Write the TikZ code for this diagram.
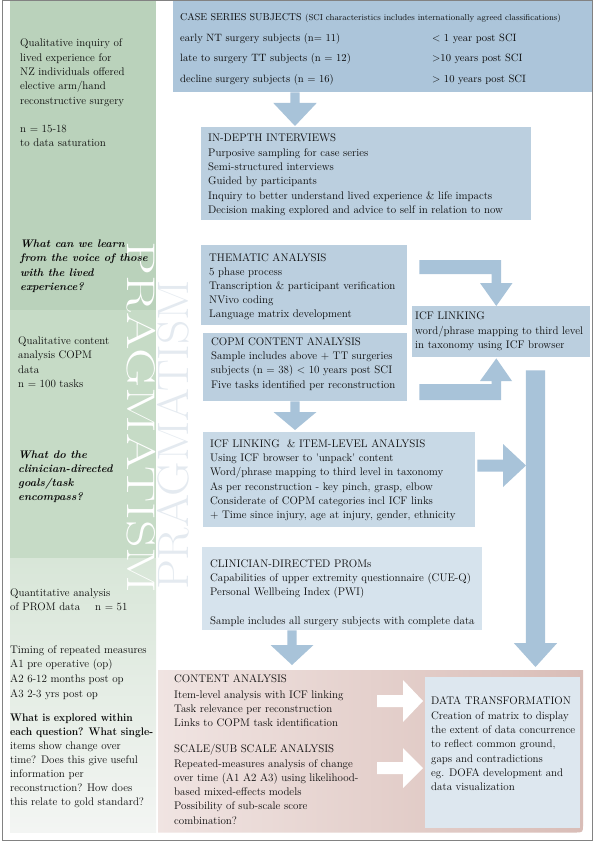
\documentclass[tikz,border=0pt]{standalone}
\usetikzlibrary{calc}
\definecolor{gA}{RGB}{186,210,187}
\definecolor{gB}{RGB}{198,219,198}
\definecolor{gC}{RGB}{216,230,216}
\definecolor{gD}{RGB}{243,245,243}
\definecolor{bCase}{RGB}{172,197,218}
\definecolor{bMid}{RGB}{187,207,223}
\definecolor{bItem}{RGB}{200,217,230}
\definecolor{bProm}{RGB}{214,227,237}
\definecolor{bData}{RGB}{221,231,239}
\definecolor{arr}{RGB}{168,195,217}
\definecolor{pkL}{RGB}{240,228,226}
\definecolor{pkR}{RGB}{217,189,183}
\definecolor{framec}{RGB}{130,130,130}
\definecolor{pale}{RGB}{228,234,240}
\definecolor{tx}{RGB}{10,10,10}
\newcommand{\dnarrow}[6]{\fill[#6] let \p1=#1, \p2=#2 in
  (\x1-#3,\y1) -- (\x1+#3,\y1) -- (\x1+#3,\y2+#5) -- (\x1+#4,\y2+#5) -- (\x1,\y2)
  -- (\x1-#4,\y2+#5) -- (\x1-#3,\y2+#5) -- cycle;}
\newcommand{\rtarrow}[6]{\fill[#6] let \p1=#1, \p2=#2 in
  (\x1,\y1+#3) -- (\x2-#5,\y1+#3) -- (\x2-#5,\y1+#4) -- (\x2,\y1)
  -- (\x2-#5,\y1-#4) -- (\x2-#5,\y1-#3) -- (\x1,\y1-#3) -- cycle;}
\begin{document}
\begin{tikzpicture}[x=1pt,y=-1pt,
  box/.style={rectangle, inner sep=0, anchor=north west, draw=none},
  txt/.style={anchor=north west, inner sep=0, align=left, text=tx, font=\fontsize{11}{14.2}\selectfont},
  line/.style={anchor=base west, inner sep=0, text=tx, font=\fontsize{11}{14.2}\selectfont},
  rowt/.style={anchor=base west, inner sep=0, text=tx, font=\fontsize{10.6}{13}\selectfont}]
\useasboundingbox (0,0) rectangle (595,842);
\fill[white] (0,0) rectangle (595,842);
% left column
\fill[gA] (10,0) rectangle (156,310);
\fill[gB] (10,310) rectangle (156,558);
\shade[top color=gC, bottom color=gD] (10,558) rectangle (156,832);
% pink region
\shade[left color=pkL, right color=pkR] (158,670) -- (583,670) -- (583,824.5)
  .. controls (583,832.5) .. (575,832.5) -- (158,832.5) -- cycle;
\coordinate (pinktop) at (370,670);
% pale word
\node[rotate=90, text=pale, inner sep=0, font=\fontsize{44}{44}\selectfont] (prag2) at (173.5,435) {\scalebox{1.08}[1]{PRAGMATISM}};
% boxes
\node[box, fill=bCase, minimum width=419, minimum height=92] (case) at (173,0) {};
\node[box, fill=bMid, minimum width=330, minimum height=93] (indepth) at (201,127) {};
\node[box, fill=bMid, minimum width=206, minimum height=80] (thematic) at (201,245) {};
\node[box, fill=bMid, minimum width=178, minimum height=51] (icf) at (412,306) {};
\node[box, fill=bMid, minimum width=204, minimum height=68] (copm) at (203,333) {};
\node[box, fill=bItem, minimum width=272, minimum height=95] (item) at (203,432) {};
\node[box, fill=bProm, minimum width=280, minimum height=83] (proms) at (202,547) {};
\node[box, fill=bData, minimum width=155, minimum height=151] (data) at (425,677) {};
% guide coordinates
\coordinate (x295) at (295,0);
\coordinate (x292) at (292,0);
\coordinate (x535) at (535.5,0);
\coordinate (v496) at (496.3,0);
\coordinate (h465) at (0,465.5);
\coordinate (h701) at (0,701);
\coordinate (h768) at (0,768);
\coordinate (h260) at (0,260);
\coordinate (h274) at (0,274);
\coordinate (h384) at (0,384);
\coordinate (h400) at (0,400);
% arrows
\dnarrow{(x295 |- case.south)}{($(x295 |- indepth.north)+(0,-1)$)}{4.7pt}{21.7pt}{23pt}{arr}
\dnarrow{(x295 |- copm.south)}{($(x295 |- item.north)+(0,-2)$)}{4.7pt}{21.5pt}{18pt}{arr}
\dnarrow{(x292 |- proms.south)}{($(x292 |- pinktop)+(0,-5)$)}{4.7pt}{21.5pt}{20pt}{arr}
\coordinate (vtop) at ($(x535 |- icf.south)+(0,13)$);
\coordinate (vend) at ($(x535 |- data.north)+(0,-10)$);
\dnarrow{(vtop)}{(vend)}{9.7pt}{21.7pt}{24pt}{arr}
\coordinate (ritail) at ($(item.east |- h465)+(2,0)$);
\coordinate (ritip) at (526,465.5);
\rtarrow{(ritail)}{(ritip)}{6pt}{21.5pt}{23pt}{arr}
% elbow arrow thematic -> icf
\fill[arr] ($(thematic.east |- h260)+(12,0)$) -- (501,260) -- (501,283) -- (512.5,283)
  -- (v496 |- icf.north) -- (480,283) -- (491.5,283) -- (491.5,274) -- ($(thematic.east |- h274)+(12,0)$) -- cycle;
% elbow arrow copm -> icf
\fill[arr] ($(copm.east |- h400)+(12,0)$) -- (501,400) -- (501,381) -- (512,381)
  -- ($(v496 |- icf.south)+(0,1)$) -- (480,381) -- (491.5,381) -- (491.5,384) -- ($(copm.east |- h384)+(12,0)$) -- cycle;
% white arrows
\coordinate (wa1) at (377,701);
\coordinate (wa2) at (377,768);
\rtarrow{(wa1)}{($(data.west |- h701)+(-2,0)$)}{6pt}{21pt}{20pt}{white}
\rtarrow{(wa2)}{($(data.west |- h768)+(-2,0)$)}{6pt}{20pt}{20pt}{white}
% white word
\node[rotate=-90, text=white, inner sep=0, font=\fontsize{40}{40}\selectfont] (prag1) at (141,417.5) {\scalebox{1.35}[1]{PRAGMATISM}};
% left column texts
\node[txt, font=\fontsize{11}{14.3}\selectfont] (l1) at (20,36.6) {\strut Qualitative inquiry of\\lived experience for\\NZ individuals offered\\elective arm/hand\\reconstructive surgery\\[14.3pt]n = 15-18\\to data saturation};
\node[txt, font=\fontsize{11}{14.2}\bfseries\itshape] (l2) at (20,237.6) {\strut What can we learn\\from the voice of those\\with the lived\\experience?};
\node[txt] (l3) at (18,334.6) {\strut Qualitative content\\analysis COPM\\data\\n = 100 tasks};
\node[txt, font=\fontsize{11}{14.2}\bfseries\itshape] (l4) at (18,447.9) {\strut What do the\\clinician-directed\\goals/task\\encompass?};
\node[txt] (l5) at (10,586.3) {\strut Quantitative analysis\\of PROM data};
\node[line] (l5b) at (95,610.8) {n = 51};
\node[txt, font=\fontsize{11}{14.6}\selectfont] (l6) at (10,642.9) {\strut Timing of repeated measures\\A1 pre operative (op)\\A2 6-12 months post op\\A3 2-3 yrs post op};
\node[txt, font=\fontsize{11}{14.1}\selectfont] (l7) at (10,711.3) {\strut\scalebox{0.93}[1]{\bfseries What is explored within}\\\scalebox{0.93}[1]{\bfseries each question? What single-}\\items show change over\\time? Does this give useful\\information per\\reconstruction? How does\\this relate to gold standard?};
% case box texts
\node[anchor=base west, inner sep=0, text=tx] (ct) at (180,20.8) {{\fontsize{10}{12}\selectfont CASE SERIES SUBJECTS} {\fontsize{8.6}{10}\selectfont (SCI characteristics includes internationally agreed classifications)}};
\node[rowt] (r1a) at (180,41.5) {early NT surgery subjects (n= 11)};
\node[rowt] (r1b) at (432,41.5) {< 1 year post SCI};
\node[rowt] (r2a) at (180,61.8) {late to surgery TT subjects (n = 12)};
\node[rowt] (r2b) at (432,61.8) {>10 years post SCI};
\node[rowt] (r3a) at (180,82.3) {decline surgery subjects (n = 16)};
\node[rowt] (r3b) at (432,82.3) {> 10 years post SCI};
% box texts
\node[txt, font=\fontsize{11}{14.3}\selectfont] (t1) at (208,131.6) {\strut IN-DEPTH INTERVIEWS\\Purposive sampling for case series\\Semi-structured interviews\\Guided by participants\\Inquiry to better understand lived experience \& life impacts\\Decision making explored and advice to self in relation to now};
\node[txt, font=\fontsize{11}{14.1}\selectfont] (t2) at (209,251.3) {\strut THEMATIC ANALYSIS\\5 phase process\\Transcription \& participant verification\\NVivo coding\\Language matrix development};
\node[txt, font=\fontsize{11}{14.6}\selectfont] (t3) at (415,309.3) {\strut ICF LINKING\\word/phrase mapping to third level\\in taxonomy using ICF browser};
\node[txt] (t4) at (211,335.3) {\strut COPM CONTENT ANALYSIS\\Sample includes above + TT surgeries\\subjects (n = 38) < 10 years post SCI\\Five tasks identified per reconstruction};
\node[txt, font=\fontsize{11}{14.3}\selectfont] (t5) at (210,436.9) {\strut ICF LINKING \ \& ITEM-LEVEL ANALYSIS\\Using ICF browser to \textquotesingle unpack\textquotesingle\ content\\Word/phrase mapping to third level in taxonomy\\As per reconstruction - key pinch, grasp, elbow\\Considerate of COPM categories incl ICF links\\+ Time since injury, age at injury, gender, ethnicity};
\node[txt, font=\fontsize{11}{14.4}\selectfont] (t6) at (210,556.9) {\strut CLINICIAN-DIRECTED PROMs\\Capabilities of upper extremity questionnaire (CUE-Q)\\Personal Wellbeing Index (PWI)\\[14.3pt]Sample includes all surgery subjects with complete data};
\node[line] (t7) at (174,682.8) {CONTENT ANALYSIS};
\node[txt, font=\fontsize{11}{13.9}\selectfont] (t8) at (174,688.6) {\strut Item-level analysis with ICF linking\\Task relevance per reconstruction\\Links to COPM task identification};
\node[txt, font=\fontsize{11}{14.25}\selectfont] (t9) at (174,742.6) {\strut SCALE/SUB SCALE ANALYSIS\\Repeated-measures analysis of change\\over time (A1 A2 A3) using likelihood-\\based mixed-effects models\\Possibility of sub-scale score\\combination?};
\node[txt, font=\fontsize{11}{14.3}\selectfont] (t10) at (431,694.6) {\strut DATA TRANSFORMATION\\Creation of matrix to display\\the extent of data concurrence\\to reflect common ground,\\gaps and contradictions\\eg. DOFA development and\\data visualization};
% frame
\draw[framec, line width=0.9] (2.5,0.5) rectangle (592.5,840.5);
\end{tikzpicture}
\end{document}
